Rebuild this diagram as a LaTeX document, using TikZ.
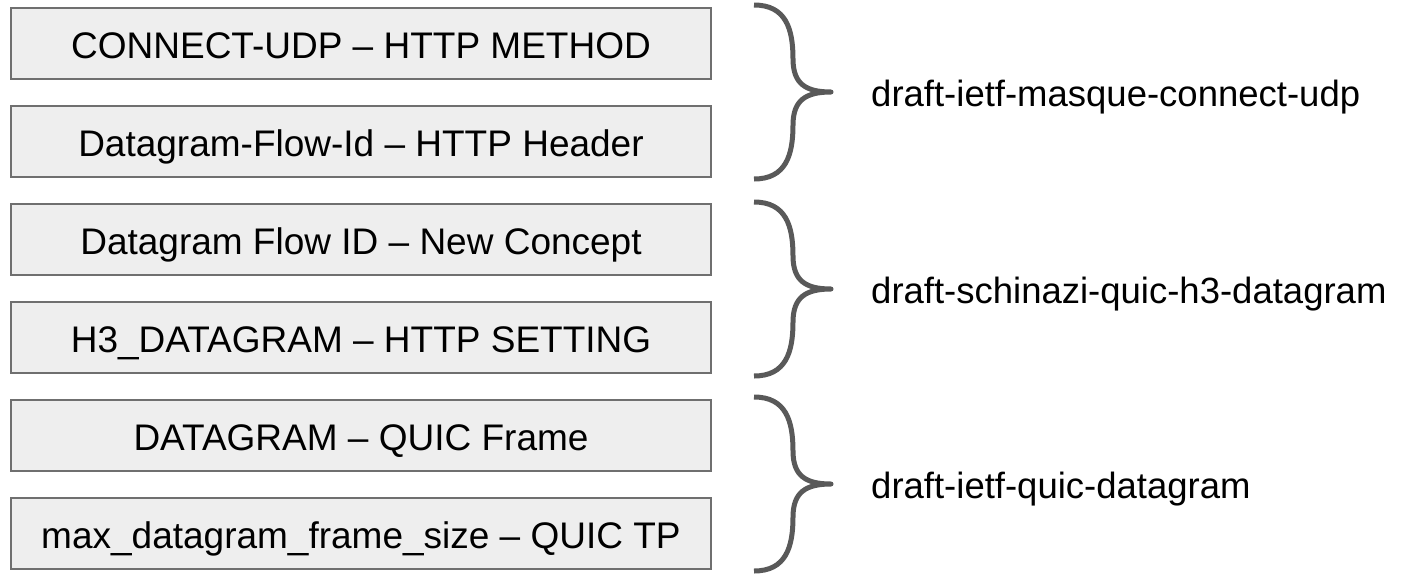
\documentclass[tikz,border=0pt]{standalone}
\usepackage{fontspec}
\setmainfont{Liberation Sans}
\usetikzlibrary{positioning}

\definecolor{boxfill}{HTML}{EEEEEE}
\definecolor{boxline}{HTML}{6F6F6F}
\definecolor{bracegray}{HTML}{595959}

\tikzset{
  itembox/.style={draw=boxline, line width=2pt, fill=boxfill, minimum width=700pt,
    minimum height=71pt, inner sep=0pt, text height=34pt, text depth=4pt,
    font=\fontsize{37}{44}\selectfont},
  draftlabel/.style={anchor=base west, inner sep=0pt, font=\fontsize{36.5}{44}\selectfont},
  curly/.pic={
    \draw[draw=bracegray, line width=5pt, line join=round]
      (0,0) .. controls (32,0) and (39,-24) .. (39,-54)
      .. controls (39,-79) and (52,-87) .. (77,-87)
      .. controls (52,-87) and (39,-95) .. (39,-120)
      .. controls (39,-150) and (32,-174) .. (0,-174);
    \coordinate (-tip) at (77,-87);
  }
}

\begin{document}
\begin{tikzpicture}[x=1pt, y=1pt, node distance=98pt]
  \useasboundingbox (0,0) rectangle (1405,-573);

  % Nodes
  \node (connect) [itembox] at (361,-43.5) {CONNECT-UDP – HTTP METHOD};
  \node (flowhdr) [itembox, below of=connect] {Datagram-Flow-Id – HTTP Header};
  \node (flowid) [itembox, below of=flowhdr] {Datagram Flow ID – New Concept};
  \node (setting) [itembox, below of=flowid] {H3\_DATAGRAM – HTTP SETTING};
  \node (frame) [itembox, below of=setting] {DATAGRAM – QUIC Frame};
  \node (maxsize) [itembox, below of=frame] {max\_datagram\_frame\_size – QUIC TP};

  % Braces
  \pic (udp) at ([shift={(42,2)}]connect.north east) {curly};
  \pic (h3) at ([shift={(42,1)}]flowid.north east) {curly};
  \pic (quic) at ([shift={(42,2)}]frame.north east) {curly};

  % Labels
  \node (udpdraft) [draftlabel] at ([shift={(40,-14.5)}]udp-tip) {draft-ietf-masque-connect-udp};
  \node (h3draft) [draftlabel] at ([shift={(40,-14.5)}]h3-tip) {draft-schinazi-quic-h3-datagram};
  \node (quicdraft) [draftlabel] at ([shift={(40,-14.5)}]quic-tip) {draft-ietf-quic-datagram};

\end{tikzpicture}
\end{document}
